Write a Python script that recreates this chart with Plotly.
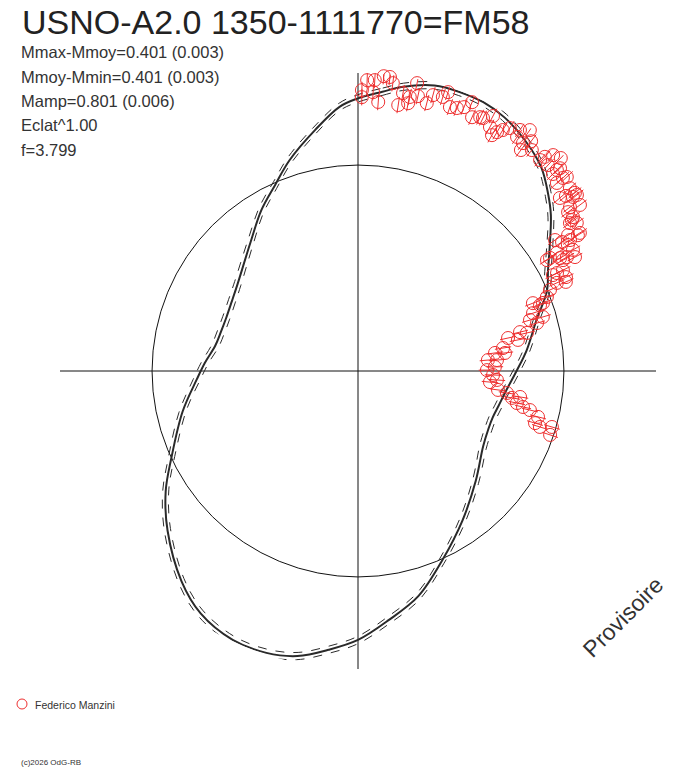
import plotly.graph_objs as go

# observed points: phase (deg, clockwise from top) and radius (mean circle = 1)
phase_obs = [0.8, 0.8, 1.8, 3.3, 5.0, 6.2, 6.9, 4.3, 3.1, 8.6, 9.2, 10.6, 10.7, 11.6, 12.3, 14.4,
             15.2, 17.2, 17.9, 19.2, 20.6, 21.9, 23.0, 24.2, 25.7, 26.3, 28.4, 27.9, 30.2, 31.0,
             29.6, 32.0, 33.9, 34.2, 35.5, 35.9, 37.0, 36.4, 38.2, 40.8, 41.1, 42.1, 43.6, 42.7,
             44.7, 44.9, 44.7, 46.7, 47.1, 46.6, 49.2, 50.6, 49.9, 49.4, 51.0, 53.2, 51.2, 52.9,
             52.3, 54.4, 54.8, 55.9, 58.1, 55.1, 57.1, 58.3, 58.3, 56.4, 57.7, 59.0, 60.6, 59.3,
             61.4, 59.6, 60.8, 62.3, 59.5, 61.6, 63.8, 63.8, 65.7, 63.8, 66.8, 66.1, 67.1, 68.6,
             68.8, 69.8, 70.1, 71.7, 73.7, 73.5, 75.0, 76.5, 77.3, 77.6, 79.0, 81.0, 83.0, 82.5,
             85.2, 85.5, 89.6, 88.3, 91.7, 93.7, 94.8, 97.7, 98.4, 99.9, 101.4, 99.1, 102.3, 102.8,
             104.3, 106.4, 107.1, 106.1, 108.4]
rad_obs = [1.364, 1.330, 1.413, 1.415, 1.437, 1.436, 1.408, 1.310, 1.356, 1.306, 1.367, 1.323,
           1.354, 1.427, 1.366, 1.343, 1.388, 1.393, 1.423, 1.357, 1.364, 1.381, 1.418, 1.351,
           1.368, 1.370, 1.347, 1.401, 1.342, 1.365, 1.317, 1.391, 1.410, 1.374, 1.437, 1.366,
           1.397, 1.333, 1.365, 1.353, 1.380, 1.413, 1.428, 1.360, 1.373, 1.390, 1.346, 1.367,
           1.384, 1.329, 1.359, 1.363, 1.320, 1.291, 1.343, 1.346, 1.364, 1.279, 1.301, 1.284,
           1.271, 1.283, 1.269, 1.255, 1.215, 1.255, 1.210, 1.149, 1.172, 1.189, 1.198, 1.123,
           1.155, 1.064, 1.124, 1.190, 1.082, 1.132, 1.109, 1.055, 1.108, 1.077, 1.098, 1.056,
           1.012, 0.985, 0.911, 0.957, 0.940, 0.895, 0.935, 0.871, 0.900, 0.809, 0.841, 0.746,
           0.791, 0.713, 0.719, 0.671, 0.633, 0.677, 0.626, 0.665, 0.656, 0.676, 0.643, 0.686,
           0.731, 0.759, 0.787, 0.797, 0.820, 0.856, 0.902, 0.896, 0.924, 0.980, 0.983]
err_obs = 0.04

# fitted light curve
phase_fit = [0, 5, 9, 15, 20, 25, 30, 36, 42, 47, 51, 57, 62, 67, 74, 83, 90, 97, 104, 109, 114,
             121, 133, 145, 156, 165, 173, 180, 186, 192, 198, 205, 213, 220, 230, 238, 245, 257,
             267, 273, 280, 286, 292, 299, 306, 320, 329, 336, 342, 350, 356, 360]
rad_fit = [1.324, 1.361, 1.397, 1.435, 1.442, 1.440, 1.422, 1.382, 1.330, 1.262, 1.205, 1.110,
           1.045, 0.997, 0.902, 0.825, 0.770, 0.728, 0.703, 0.692, 0.693, 0.709, 0.782, 0.885,
           1.006, 1.132, 1.219, 1.306, 1.361, 1.415, 1.439, 1.440, 1.403, 1.333, 1.207, 1.101,
           1.000, 0.874, 0.784, 0.745, 0.704, 0.692, 0.690, 0.700, 0.722, 0.813, 0.911, 0.989,
           1.076, 1.190, 1.286, 1.324]
band = 0.018

stats = ["Mmax-Mmoy=0.401 (0.003)", "Mmoy-Mmin=0.401 (0.003)", "Mamp=0.801 (0.006)",
         "Eclat^1.00", "f=3.799"]

red = "rgb(238,48,48)"
dark = "#2a2a2a"

fig = go.Figure()

for off in (-band, band):
    fig.add_trace(go.Scatterpolar(
        r=[v + off for v in rad_fit], theta=phase_fit, mode="lines",
        line=dict(color=dark, width=1, dash="dash", shape="spline"),
        showlegend=False, hoverinfo="skip"))
fig.add_trace(go.Scatterpolar(
    r=rad_fit, theta=phase_fit, mode="lines",
    line=dict(color=dark, width=2, shape="spline"),
    showlegend=False, hoverinfo="skip"))

# radial error bars
eb_r, eb_t = [], []
for t, v in zip(phase_obs, rad_obs):
    eb_r += [v - err_obs, v + err_obs, None]
    eb_t += [t, t, None]
fig.add_trace(go.Scatterpolar(
    r=eb_r, theta=eb_t, mode="lines", line=dict(color=red, width=1),
    showlegend=False, hoverinfo="skip"))

fig.add_trace(go.Scatterpolar(
    r=rad_obs, theta=phase_obs, mode="markers", name="Federico Manzini",
    marker=dict(symbol="circle-open", size=13, color=red, line=dict(width=1)),
    showlegend=False))

# page body has an 8px margin, so the figure is laid out in page px minus 8
W, H = 680, 760
cx, cy, R = 350, 363, 298


def px(x, y):
    return x / W, 1 - y / H


fig.update_layout(
    width=W, height=H, margin=dict(l=0, r=0, t=0, b=0),
    paper_bgcolor="white", plot_bgcolor="white",
    font=dict(family="Liberation Sans, Arial", color="#222"),
    polar=dict(
        domain=dict(x=[(cx - R) / W, (cx + R) / W], y=[(H - cy - R) / H, (H - cy + R) / H]),
        bgcolor="white",
        radialaxis=dict(range=[0, 1.447], tickvals=[1.0], showticklabels=False, ticks="",
                        showline=False, showgrid=True, gridcolor="#111", gridwidth=1),
        angularaxis=dict(rotation=90, direction="clockwise", tickvals=[0, 90, 180, 270],
                         showticklabels=False, ticks="", showline=False, showgrid=True,
                         gridcolor="#111", gridwidth=1),
    ),
    showlegend=False,
)

x, y = px(12, 14)
fig.add_annotation(text="USNO-A2.0 1350-1111770=FM58", x=x, y=y,
                   xref="paper", yref="paper", xanchor="left", yanchor="middle",
                   showarrow=False, font=dict(size=34, color="#222"))
for i, s in enumerate(stats):
    x, y = px(11, 44 + 24.5 * i)
    fig.add_annotation(text=s, x=x, y=y,
                       xref="paper", yref="paper", xanchor="left", yanchor="middle",
                       showarrow=False, font=dict(size=16.5, color="#333"))
x, y = px(615, 609)
fig.add_annotation(text="Provisoire", x=x, y=y, xref="paper", yref="paper",
                   xanchor="center", yanchor="middle",
                   showarrow=False, textangle=-45, font=dict(size=23, color="#333"))

# legend entry
x0, y0 = px(9, 691)
x1, y1 = px(19, 701)
fig.add_shape(type="circle", xref="paper", yref="paper", x0=x0, y0=y0, x1=x1, y1=y1,
              line=dict(color=red, width=1))
x, y = px(25, 697)
fig.add_annotation(text="Federico Manzini", x=x, y=y, xref="paper", yref="paper",
                   xanchor="left", yanchor="middle", showarrow=False,
                   font=dict(size=10.5, color="#333"))

x, y = px(11, 754)
fig.add_annotation(text="(c)2026 OdG-RB", x=x, y=y, xref="paper", yref="paper",
                   xanchor="left", yanchor="middle", showarrow=False,
                   font=dict(size=8, color="#333"))

fig.write_html("out.html")
